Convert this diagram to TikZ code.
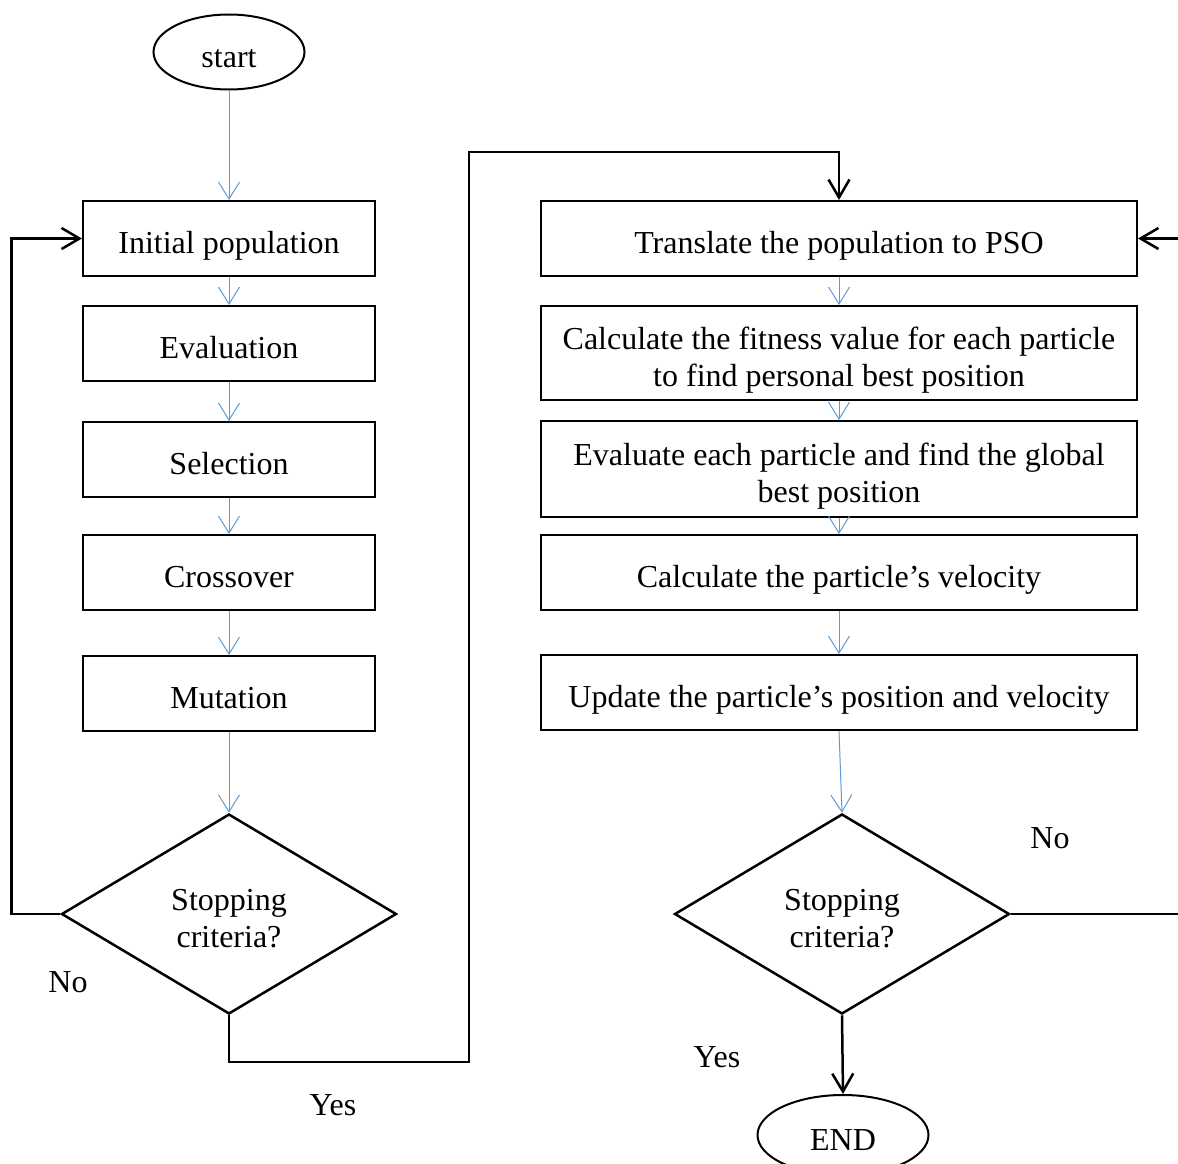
\documentclass[tikz,border=0pt]{standalone}
\usepackage{fontspec}
\setmainfont{Liberation Serif}
\usepackage{tikz}
\usetikzlibrary{arrows.meta,positioning,shapes.geometric}
\definecolor{flowblue}{RGB}{91,155,213}
\newcommand\wstrut{\rule[-0.216em]{0pt}{1.38em}}
\tikzset{
  wtext/.style={execute at begin node=\wstrut, execute at end node=\wstrut},
  stepbox/.style={draw, wtext, line width=2pt, minimum height=75, inner sep=4pt, align=center},
  gabox/.style={stepbox, minimum width=292},
  psobox/.style={stepbox, minimum width=596},
  terminal/.style={draw, wtext, ellipse, line width=2pt, inner sep=0pt},
  decision/.style={draw, wtext, diamond, line width=2.5pt, aspect=1.675, minimum width=335, minimum height=200, align=center, inner sep=1pt},
  flow/.style={-{Straight Barb[length=17pt,width=21pt]}, flowblue, line width=1pt},
  back/.style={-{Straight Barb[length=18pt,width=21pt]}, black, line width=2.5pt},
  lbl/.style={anchor=base, inner sep=0pt},
}

\begin{document}
\begin{tikzpicture}[x=1pt, y=-1pt, font=\fontsize{32}{37}\selectfont]
  \clip (0,0) rectangle (1178,1164);
  % GA column
  \node[terminal, minimum width=151, minimum height=75] (start) at (229,52) {start};
  \node[gabox] (init) at (229,238.5) {Initial population};
  \node[gabox, below=28pt of init] (eval) {Evaluation};
  \node[gabox, below=39pt of eval] (sel) {Selection};
  \node[gabox, below=36pt of sel] (cross) {Crossover};
  \node[gabox, below=44pt of cross] (mut) {Mutation};
  \node[decision] (ldec) at (229,914) {\wstrut Stopping\\criteria?};
  % PSO column
  \node[psobox] (trans) at (839,238.5) {Translate the population to PSO};
  \node[psobox, minimum height=94, below=28pt of trans] (fit) {\wstrut Calculate the fitness value for each particle\\to find personal best position};
  \node[psobox, minimum height=96, below=19pt of fit] (glob) {\wstrut Evaluate each particle and find the global\\best position};
  \node[psobox, below=16pt of glob] (vel) {Calculate the particle’s velocity};
  \node[psobox, below=43pt of vel] (upd) {Update the particle’s position and velocity};
  \node[decision] (rdec) at (842,914) {\wstrut Stopping\\criteria?};
  \node[terminal, minimum width=171, minimum height=80] (stop) at (843,1135) {END};
  % labels
  \node[lbl] (lno) at (68,992) {No};
  \node[lbl] (lyes) at (333,1115) {Yes};
  \node[lbl] (rno) at (1050,848) {No};
  \node[lbl] (ryes) at (717,1067) {Yes};
  % flow arrows
  \draw[flow] (start) -- (init);
  \draw[flow] (init) -- (eval);
  \draw[flow] (eval) -- (sel);
  \draw[flow] (sel) -- (cross);
  \draw[flow] (cross) -- (mut);
  \draw[flow] (mut) -- (ldec);
  \draw[flow] (trans) -- (fit);
  \draw[flow] (fit) -- (glob);
  \draw[flow] (glob) -- (vel);
  \draw[flow] (vel) -- (upd);
  \draw[flow] (upd.south) -- (rdec.north);
  % decisions
  \draw[back] (ldec.west) -- ++(-49,0) |- (init.west);
  \draw[back] (ldec.south) |- (469,1062) |- ([yshift=48pt]trans.north) -- (trans.north);
  \draw[back] (rdec.east) -- (1195,914) |- (trans.east);
  \draw[back] (rdec.south) -- (stop.north);
\end{tikzpicture}
\end{document}
